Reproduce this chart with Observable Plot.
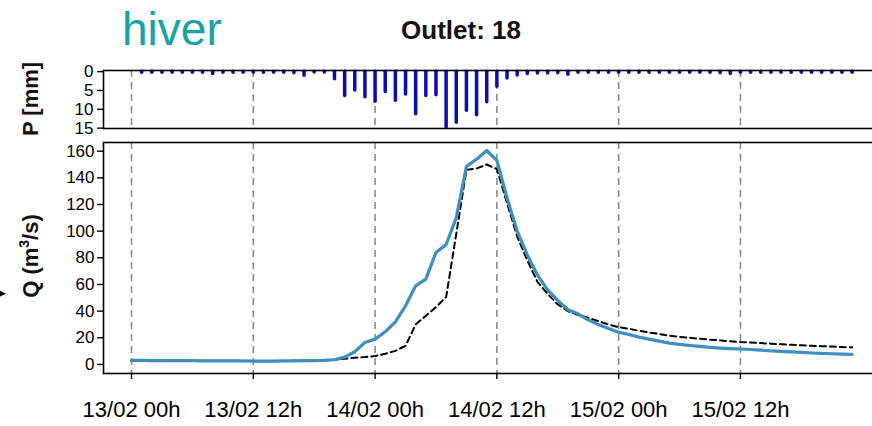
<!DOCTYPE html>
<html>
<head>
<meta charset="utf-8">
<script src="https://cdn.jsdelivr.net/npm/d3@7"></script>
<script src="https://cdn.jsdelivr.net/npm/@observablehq/plot@0.6"></script>
<style>
  html, body { margin: 0; padding: 0; background: #fff; }
  #wrap { position: relative; width: 872px; height: 426px; overflow: hidden; background: #fff; }
  #top, #bottom, #overlay { position: absolute; left: 0; }
  #top { top: 0; }
  #bottom { top: 135px; }
  #overlay { top: 0; pointer-events: none; }
  #wrap svg { max-width: none !important; height: auto; overflow: visible; }
  text { font-family: "Liberation Sans", Arial, sans-serif; }
</style>
</head>
<body>
<div id="wrap">
  <div id="top"></div>
  <div id="bottom"></div>
  <svg id="overlay" width="872" height="426"></svg>
</div>
<script>
// ---- data ----
const precipHours = [1,2,3,4,5,6,7,8,9,10,11,12,13,14,15,16,17,18,19,20,21,22,23,24,25,26,27,28,29,30,31,32,33,34,35,36,37,38,39,40,41,42,43,44,45,46,47,48,49,50,51,52,53,54,55,56,57,58,59,60,61,62,63,64,65,66,67,68,69,70,71];
const precip = [0.3,0.3,0.3,0.3,0.3,0.3,0.3,0.6,0.3,0.3,0.3,0.3,0.3,0.3,0.3,
  0.4,1.1,0.2,0.2,2.0,6.5,5.0,6.8,8.0,5.4,7.7,6.1,11.3,6.5,6.3,14.8,13.6,10.4,11.6,8.1,4.0,1.8,1.0,0.6,0.5,0.5,0.4,0.8,
  0.3,0.3,0.3,0.3,0.3,0.3,0.3,0.3,0.3,0.3,0.3,0.3,0.3,0.3,0.4,0.6,
  0.3,0.3,0.3,0.3,0.3,0.3,0.3,0.3,0.3,0.3,0.3,0.3];
const qHours = [0,1,2,3,4,5,6,7,8,9,10,11,12,13,14,15,16,17,18,19,20,21,22,23,24,25,26,27,28,29,30,31,32,33,34,35,36,37,38,39,40,41,42,43,44,45,46,47,48,49,50,51,52,53,54,55,56,57,58,59,60,61,62,63,64,65,66,67,68,69,70,71];
const qBlue = [3.0,3.0,2.9,2.9,2.8,2.8,2.8,2.7,2.7,2.6,2.6,2.6,2.5,2.5,2.5,2.6,2.7,2.8,2.9,3.1,
  3.5,5.5,9.5,16.5,19,24.5,32,44,59,64,84,90,110,148.5,154,160.5,153,125,100,82,67,56,48,41,38,33.5,30,27,24.2,22.5,20.5,19,17.5,16,15,14.2,13.5,12.8,12.3,11.9,11.6,11.2,10.7,10.2,9.8,9.4,9.0,8.6,8.3,8.0,7.8,7.5];
const qDash = [3.0,3.0,2.9,2.9,2.8,2.8,2.8,2.7,2.7,2.6,2.6,2.6,2.5,2.5,2.5,2.6,2.7,2.8,2.9,3.1,
  3.6,4.3,5.0,5.5,6.3,8.0,10.2,14,30,36.5,43,50.5,98,146,147,150,146.5,121,96,78,62,53,45,40,37,35,32.5,30,28,26.8,25.2,24,22.8,21.5,20.7,20,19.2,18.6,18,17.4,16.8,16.4,16,15.6,15.2,14.8,14.4,14,13.7,13.4,13.1,12.8];
const tickHours = [0,12,24,36,48,60];
const tickLabels = ["13/02 00h","13/02 12h","14/02 00h","14/02 12h","15/02 00h","15/02 12h"];
const pTicks = [0,5,10,15];
const qTicks = [0,20,40,60,80,100,120,140,160];

const precipData = precipHours.map((h,i)=>({h, p: precip[i]}));
const blueData = qHours.map((h,i)=>({h, q: qBlue[i]}));
const dashData = qHours.map((h,i)=>({h, q: qDash[i]}));

const FONT = "Liberation Sans, Arial, sans-serif";
const xDomain = [-2.76, 73.8];
const baseStyle = {fontFamily: FONT, fontSize: "17px", color: "black", background: "transparent", maxWidth: "none", overflow: "visible"};

// ---- top panel: precipitation ----
const topPlot = Plot.plot({
  width: 880, height: 135,
  marginLeft: 103, marginRight: 0, marginTop: 70, marginBottom: 7,
  style: baseStyle,
  x: {domain: xDomain},
  y: {domain: [-0.3, 15.1], reverse: true},
  marks: [
    Plot.ruleX(tickHours, {stroke: "#8a8a8a", strokeWidth: 1.6, strokeDasharray: "7,5"}),
    Plot.ruleX(precipData, {x: "h", y1: 0, y2: "p", stroke: "#0b0bb2", strokeWidth: 3.5, strokeLinecap: "round"}),
    Plot.frame({stroke: "black", strokeWidth: 1.6}),
    Plot.axisX({ticks: [], label: null}),
    Plot.axisY({ticks: pTicks, tickSize: 6, tickPadding: 4, fontSize: 17, strokeWidth: 1.4, label: null})
  ]
});
document.getElementById("top").appendChild(topPlot);

// ---- bottom panel: discharge ----
const botPlot = Plot.plot({
  width: 880, height: 291,
  marginLeft: 103, marginRight: 0, marginTop: 7, marginBottom: 53,
  style: baseStyle,
  x: {domain: xDomain},
  y: {domain: [-6.8, 166.5]},
  marks: [
    Plot.ruleX(tickHours, {stroke: "#8a8a8a", strokeWidth: 1.6, strokeDasharray: "7,5"}),
    Plot.line(dashData, {x: "h", y: "q", stroke: "black", strokeWidth: 2, strokeDasharray: "6,4"}),
    Plot.line(blueData, {x: "h", y: "q", stroke: "#3e8fc0", strokeWidth: 3.2}),
    Plot.frame({stroke: "black", strokeWidth: 1.6}),
    Plot.axisX({ticks: tickHours, tickFormat: (d) => tickLabels[tickHours.indexOf(d)], tickSize: 6, tickPadding: 22, fontSize: 22, strokeWidth: 1.4, label: null}),
    Plot.axisY({ticks: qTicks, tickSize: 6, tickPadding: 3, fontSize: 17, strokeWidth: 1.4, label: null})
  ]
});
document.getElementById("bottom").appendChild(botPlot);

// ---- titles / labels ----
const ov = d3.select("#overlay");
ov.append("text").attr("x", 122).attr("y", 45)
  .attr("font-size", 46).attr("fill", "#17a2a6").text("hiver");
ov.append("text").attr("x", 461).attr("y", 39).attr("text-anchor", "middle")
  .attr("font-size", 26).attr("font-weight", "bold").attr("fill", "#111").text("Outlet: 18");
ov.append("text").attr("transform", "translate(38,99) rotate(-90)").attr("text-anchor", "middle")
  .attr("font-size", 22).attr("font-weight", "bold").attr("fill", "#111").text("P [mm]");
const q = ov.append("text").attr("transform", "translate(38,256) rotate(-90)").attr("text-anchor", "middle")
  .attr("font-size", 22).attr("font-weight", "bold").attr("fill", "#111");
q.append("tspan").text("Q (m");
q.append("tspan").attr("dy", -9).attr("font-size", 14).text("3");
q.append("tspan").attr("dy", 9).text("/s)");
ov.append("text").attr("x", -1).attr("y", 296).attr("font-size", 9)
  .attr("font-family", "DejaVu Sans").attr("fill", "#000").text("▶");
</script>
</body>
</html>
